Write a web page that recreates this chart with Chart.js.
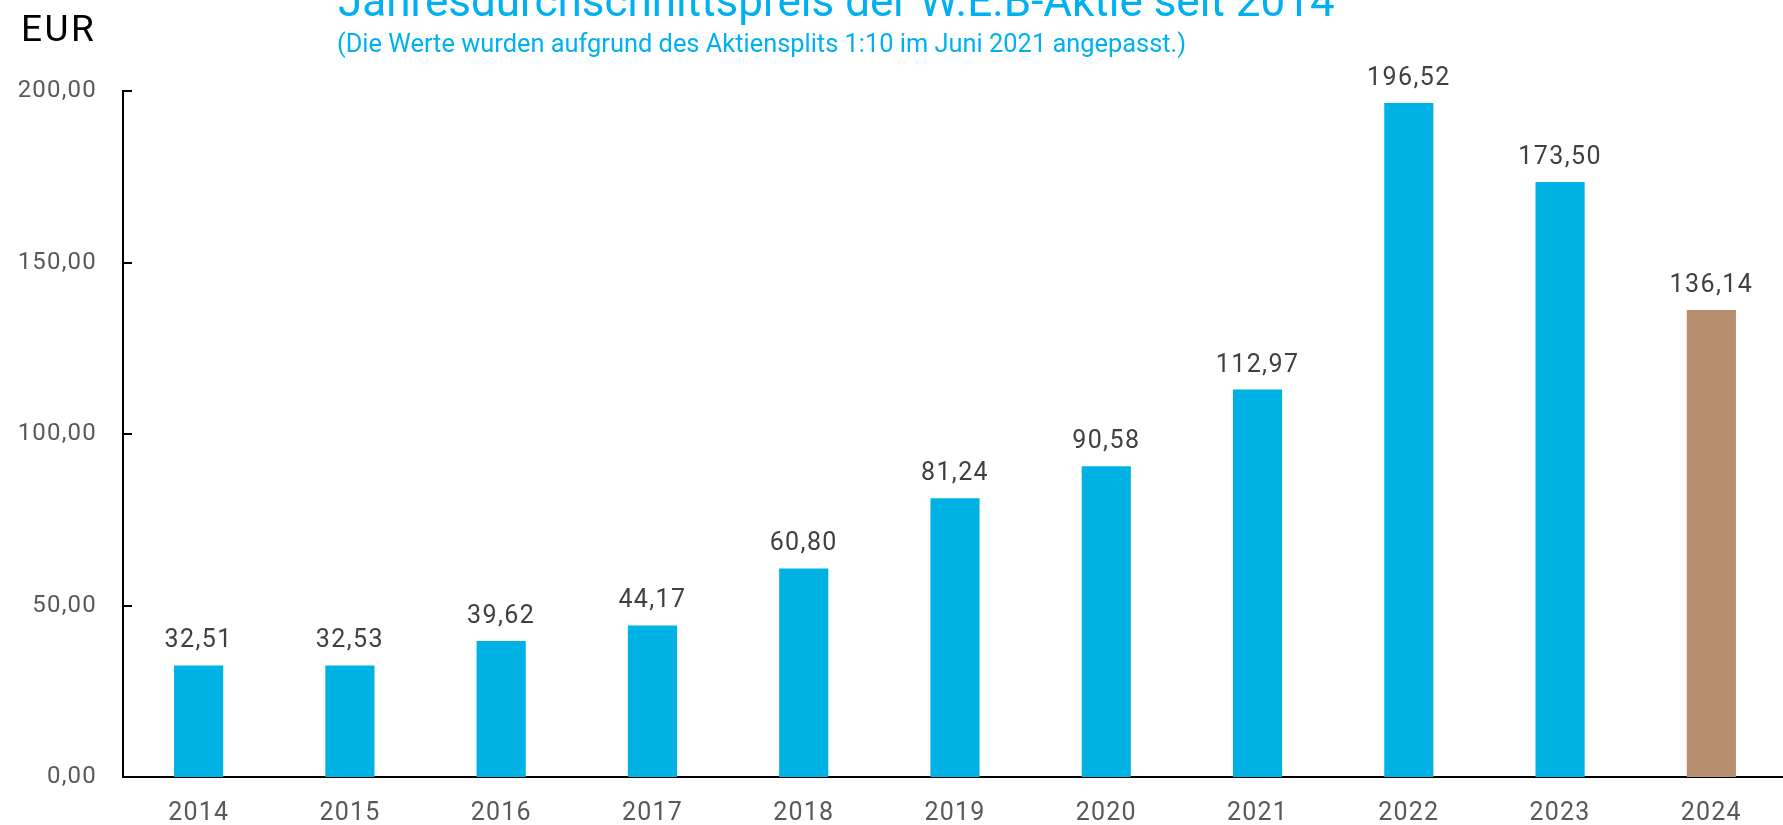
<!DOCTYPE html>
<html lang="de">
<head>
<meta charset="utf-8">
<title>Jahresdurchschnittspreis der W.E.B-Aktie seit 2014</title>
<script src="https://cdn.jsdelivr.net/npm/chart.js@4.4.1/dist/chart.umd.min.js"></script>
<style>
  html, body { margin: 0; padding: 0; background: #fff; overflow: hidden; }
  #wrap { position: absolute; left: 0; top: 0; width: 1787px; height: 825px; }
</style>
</head>
<body>
<div id="wrap"><canvas id="priceChart"></canvas></div>
<script>
// ─── DATA ─────────────────────────────────────────────────────────────────────

const years  = ['2014', '2015', '2016', '2017', '2018', '2019', '2020', '2021', '2022', '2023', '2024'];
const prices = [32.51, 32.53, 39.62, 44.17, 60.80, 81.24, 90.58, 112.97, 196.52, 173.50, 136.14];
const yTicks = [0, 50, 100, 150, 200];

const TITLE    = 'Jahresdurchschnittspreis der W.E.B-Aktie seit 2014';
const SUBTITLE = '(Die Werte wurden aufgrund des Aktiensplits 1:10 im Juni 2021 angepasst.)';
const UNIT     = 'EUR';

const CYAN  = '#00B2E3';
const BROWN = '#B78E6F';
const FONT  = 'Roboto, "Noto Sans", sans-serif';

const fmt = v => v.toFixed(2).replace('.', ',');

// ─── PLUGINS ──────────────────────────────────────────────────────────────────

// axis numbers are a bit wider than Roboto, add some letter spacing
const spacing = {
  id: 'spacing',
  beforeDraw(chart) { chart.ctx.letterSpacing = '1.2px'; }
};

// titles + unit label top left
const headerText = {
  id: 'headerText',
  afterDraw(chart) {
    const ctx = chart.ctx;
    ctx.save();
    ctx.letterSpacing = '0px';
    ctx.textAlign = 'left';
    ctx.textBaseline = 'alphabetic';
    ctx.fillStyle = '#00B0F0';
    ctx.font = `400 44px ${FONT}`;
    ctx.fillText(TITLE, 338, 16);
    ctx.font = `400 25.4px ${FONT}`;
    ctx.fillText(SUBTITLE, 337, 52);
    ctx.fillStyle = '#000';
    ctx.letterSpacing = '2.5px';
    ctx.font = `400 37px ${FONT}`;
    ctx.fillText(UNIT, 21, 41);
    ctx.restore();
  }
};

// value labels above the bars
const barValues = {
  id: 'barValues',
  afterDatasetsDraw(chart) {
    const ctx = chart.ctx;
    const meta = chart.getDatasetMeta(0);
    ctx.save();
    ctx.letterSpacing = '1.4px';
    ctx.font = `400 25px ${FONT}`;
    ctx.fillStyle = '#404040';
    ctx.textAlign = 'center';
    ctx.textBaseline = 'alphabetic';
    meta.data.forEach((bar, i) => {
      ctx.fillText(fmt(prices[i]), bar.x, bar.y - 18);
    });
    ctx.restore();
  }
};

// y tick marks drawn on the inside of the axis
const innerTicks = {
  id: 'innerTicks',
  afterDraw(chart) {
    const ctx = chart.ctx;
    const y = chart.scales.y;
    ctx.save();
    ctx.strokeStyle = '#000';
    ctx.lineWidth = 2;
    y.ticks.forEach(t => {
      const py = Math.round(y.getPixelForValue(t.value));
      ctx.beginPath();
      ctx.moveTo(y.right - 1, py);
      ctx.lineTo(y.right + 9, py);
      ctx.stroke();
    });
    ctx.restore();
  }
};

// ─── CHART ────────────────────────────────────────────────────────────────────

new Chart(document.getElementById('priceChart'), {
  type: 'bar',
  data: {
    labels: years,
    datasets: [{
      data: prices,
      backgroundColor: years.map((y, i) => i === years.length - 1 ? BROWN : CYAN),
      borderWidth: 0,
      barPercentage: 0.65,
      categoryPercentage: 0.5,
    }]
  },
  options: {
    responsive: true,
    maintainAspectRatio: false,
    animation: false,
    layout: { padding: { top: 91, left: 0, right: 0, bottom: 0 } },
    plugins: {
      legend: { display: false },
      tooltip: { enabled: false },
    },
    scales: {
      x: {
        grid: { display: false, drawTicks: false },
        border: { display: true, color: '#000', width: 2 },
        ticks: { color: '#595959', font: { family: FONT, size: 25 }, padding: 22 },
        afterFit: s => { s.height = 48; },
      },
      y: {
        min: 0,
        max: 200,
        afterBuildTicks: s => { s.ticks = yTicks.map(v => ({ value: v })); },
        grid: { display: false, drawTicks: false },
        border: { display: true, color: '#000', width: 2 },
        ticks: {
          color: '#595959',
          font: { family: FONT, size: 24 },
          padding: 26,
          callback: v => fmt(v),
        },
        afterFit: s => { s.width = 123; },
      }
    }
  },
  plugins: [spacing, headerText, barValues, innerTicks]
});
</script>
</body>
</html>
